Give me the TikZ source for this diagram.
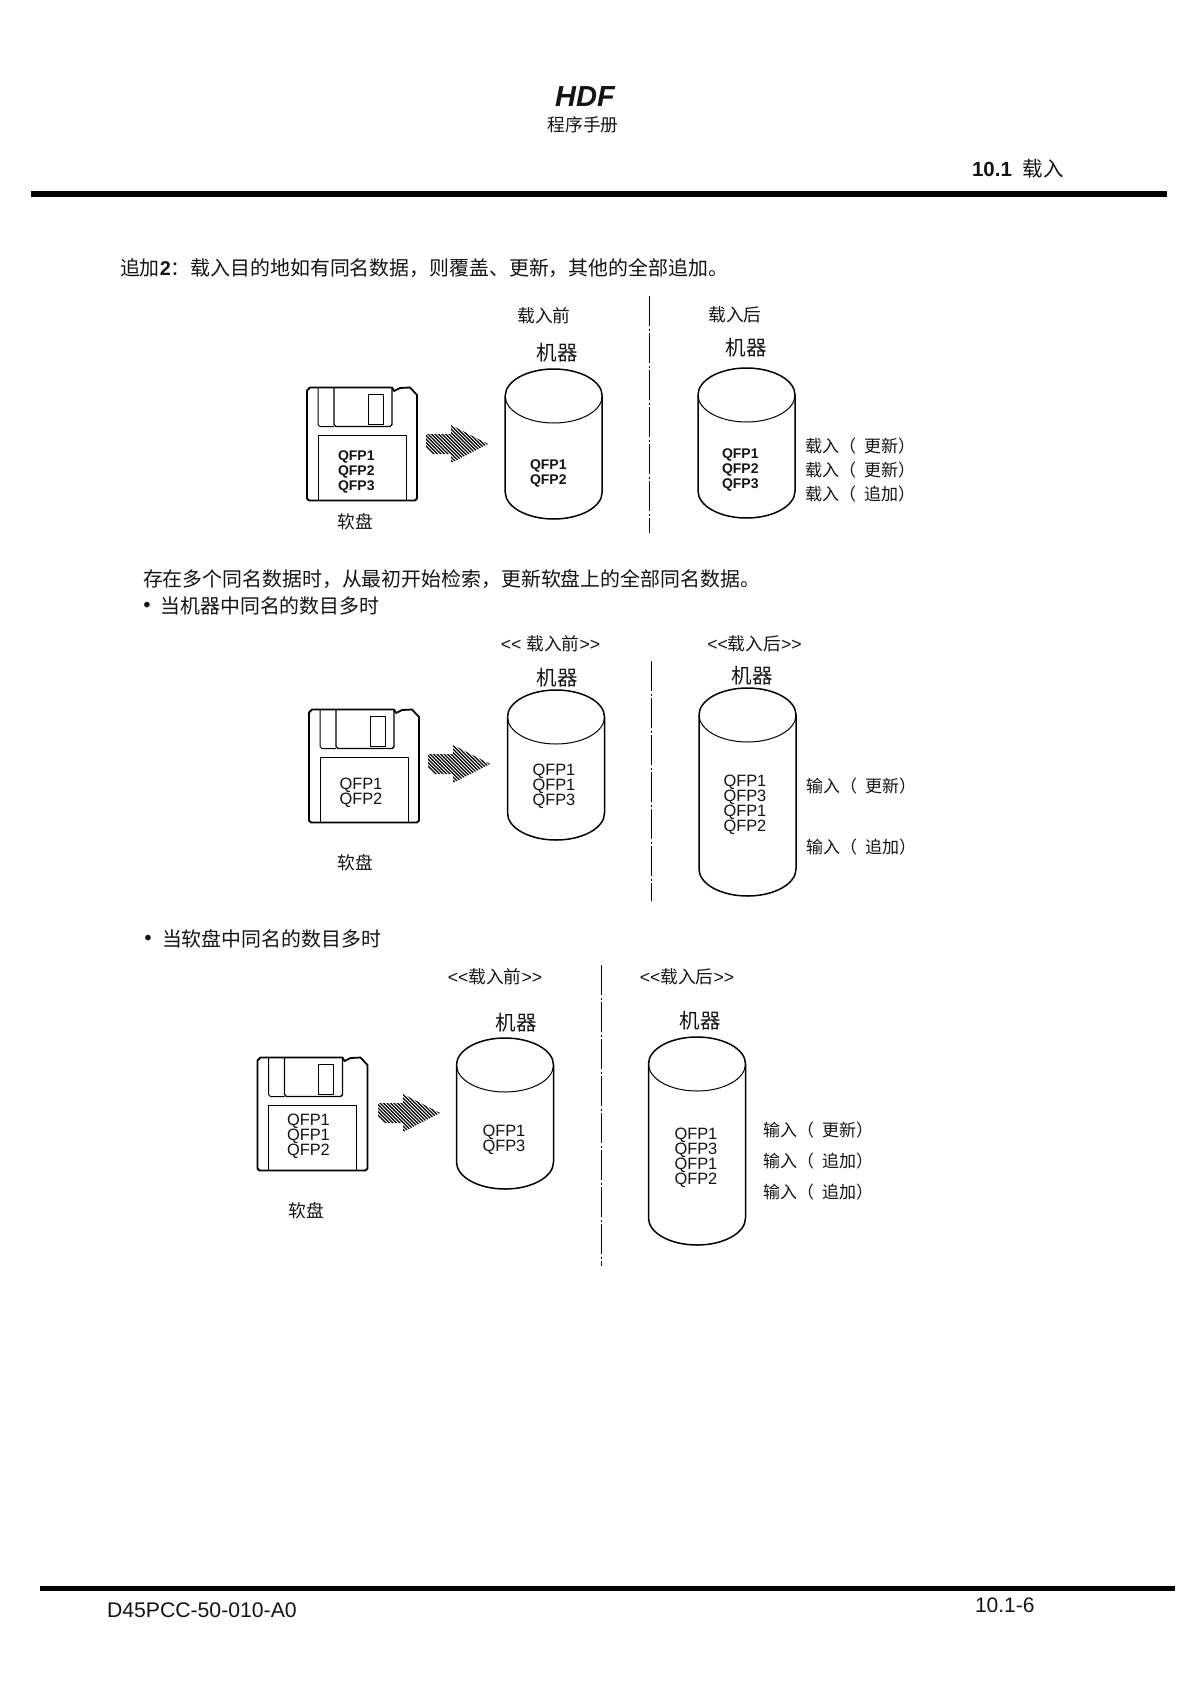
\documentclass[tikz,border=0pt]{standalone}
\usepackage{fontspec}
\setmainfont{Liberation Sans}
\newfontfamily\cjk{Noto Sans CJK SC}
\newcommand{\fsz}[1]{\fontsize{#1}{#1}\selectfont}
\newcommand{\lpar}{（\hspace{8pt}}
\newcommand{\dla}{{\rmfamily<{}<}}
\newcommand{\dra}{{\rmfamily>{}>}}
\tikzset{
  x=1pt,y=-1pt,
  txt/.style={inner sep=0pt,outer sep=0pt,text=black!92},
  cnA/.style={txt,font=\cjk\fsz{19.9}},
  cnB/.style={txt,yshift=-1pt,font=\cjk\fsz{17.7}},
  cnC/.style={txt,yshift=-0.5pt,font=\cjk\fsz{20.5}},
  cnD/.style={txt,anchor=west,yshift=-0.5pt,font=\cjk\fsz{17}},
  qfpb/.style={txt,anchor=west,yshift=-2pt,font=\bfseries\fsz{14}},
  qfpr/.style={txt,anchor=west,yshift=-2pt,xshift=0.5pt,font=\fsz{16.4}},
  outerline/.style={line width=1.8pt,line join=round},
  innerline/.style={line width=1pt,line join=round},
  shutterline/.style={line width=1.4pt,line join=round},
  cylline/.style={line width=1.5pt},
  divider/.style={line width=1pt,dash pattern=on 30pt off 2.5pt on 2pt off 2.5pt},
  hatchline/.style={line width=1.3pt,black},
  rule/.style={line width=6pt},
}
\newcommand{\floppy}[2]{%
  \begin{scope}[shift={(#1,#2)}]
    \draw[outerline,fill=white] (3,0) -- (85,0) -- (87,3.5) -- (93,0.5) -- (103,0) -- (110,7.5) -- (110,111) -- (108,113) -- (2,113) -- (0,111) -- (0,3) -- cycle;
    \draw[innerline] (11,0) -- (11,37) -- (13,39) -- (27,39);
    \draw[shutterline] (27,0) -- (27,37) -- (29,39) -- (83,39) -- (85,37) -- (85,0);
    \draw[innerline] (61,6.5) rectangle (76,36.5);
    \draw[innerline] (11,113) -- (11,48) -- (99,48) -- (99,113);
  \end{scope}}
\newcommand{\cylinder}[3]{%
  \draw[cylline,fill=white] (#1-48.5,#2+27) arc[start angle=180,end angle=0,x radius=48.5,y radius=-27]
     -- (#1+48.5,#3-27) arc[start angle=0,end angle=-180,x radius=48.5,y radius=-27] -- cycle;
  \draw[line width=1pt] (#1-48.5,#2+27) arc[start angle=180,end angle=360,x radius=48.5,y radius=-27];}
\newcommand{\hatcharrow}[2]{%
  \begin{scope}
    \clip (#1,#2-10) -- (#1+25,#2-10) -- (#1+25,#2-19) -- (#1+62,#2) -- (#1+25,#2+19) -- (#1+25,#2+10) -- (#1,#2+10) -- cycle;
    \foreach \k in {-24,-20.5,...,66}
      \draw[hatchline] (#1+\k,#2-22) -- (#1+\k+44,#2+22);
  \end{scope}}
\begin{document}
\begin{tikzpicture}
\useasboundingbox (0,0) rectangle (1190,1683);
\fill[white] (0,0) rectangle (1190,1683);
% header
\node[txt,font=\bfseries\itshape\fsz{29}] (hdf) at (585,97) {HDF};
\node[cnB,yshift=1pt] (manual) at (583,124.5) {程序手册};
\node[txt,anchor=west,font=\bfseries\fsz{20.5}] (sec) at (972,168.5) {10.1\hspace{11pt}{\mdseries\cjk 载入}};
\draw[rule] (31,194) -- (1167,194);
% footer
\draw[rule,line width=5pt] (40,1588) -- (1175,1588);
\node[txt,anchor=west,font=\fsz{21.2}] (docno) at (107,1610) {D45PCC-50-010-A0};
\node[txt,anchor=west,font=\fsz{21}] (pageno) at (975,1605) {10.1-6};
% body texts
\node[cnA,anchor=west] (t1) at (120,268) {追加{\rmfamily\bfseries 2}：载入目的地如有同名数据，则覆盖、更新，其他的全部追加。};
\node[cnA,anchor=west] (t2) at (143,579.5) {存在多个同名数据时，从最初开始检索，更新软盘上的全部同名数据。};
\node[txt,font=\bfseries\fsz{19.5}] (b1) at (147,607) {•};
\node[cnA,anchor=west] (t3) at (160.5,606) {当机器中同名的数目多时};
\node[txt,font=\bfseries\fsz{19.5}] (b2) at (148,940) {•};
\node[cnA,anchor=west] (t4) at (162,939) {当软盘中同名的数目多时};
% diagram 1
\floppy{307}{387.5}
\hatcharrow{426}{444}
\cylinder{553.7}{369}{519}
\cylinder{746.5}{368}{518}
\draw[divider] (649.5,296) -- (649.5,533);
\node[cnB] (a1) at (544,315) {载入前};
\node[cnB] (a2) at (735,314) {载入后};
\node[cnC] (a3) at (557,352) {机器};
\node[cnC] (a4) at (746,347) {机器};
\node[cnB] (a5) at (355,520.5) {软盘};
\node[qfpb] (a6) at (338,455) {QFP1};
\node[qfpb] (a7) at (338,470) {QFP2};
\node[qfpb] (a8) at (338,485) {QFP3};
\node[qfpb] (a9) at (530,463.6) {QFP1};
\node[qfpb] (a10) at (530,478.6) {QFP2};
\node[qfpb] (a11) at (722,453) {QFP1};
\node[qfpb] (a12) at (722,468) {QFP2};
\node[qfpb] (a13) at (722,483) {QFP3};
\node[cnD] (a14) at (805,446) {载入\lpar 更新）};
\node[cnD] (a15) at (805,470) {载入\lpar 更新）};
\node[cnD] (a16) at (805,494) {载入\lpar 追加）};
% diagram 2
\floppy{309}{709.5}
\hatcharrow{428}{764}
\cylinder{556}{690}{840}
\cylinder{747.5}{688}{896}
\draw[divider] (651.5,661) -- (651.5,901);
\node[cnB] (b3) at (550.5,643) {\dla\hspace{5pt}载入前\dra};
\node[cnB] (b4) at (754.5,643) {\dla 载入后\dra};
\node[cnC] (b5) at (557,677) {机器};
\node[cnC] (b6) at (752,675) {机器};
\node[cnB] (b7) at (355,862) {软盘};
\node[qfpr] (b8) at (339,783.5) {QFP1};
\node[qfpr] (b9) at (339,798.5) {QFP2};
\node[qfpr] (b10) at (532,769.5) {QFP1};
\node[qfpr] (b11) at (532,784.5) {QFP1};
\node[qfpr] (b12) at (532,799.5) {QFP3};
\node[qfpr] (b13) at (723,780) {QFP1};
\node[qfpr] (b14) at (723,795) {QFP3};
\node[qfpr] (b15) at (723,810) {QFP1};
\node[qfpr] (b16) at (723,825) {QFP2};
\node[cnD] (b17) at (806,785.5) {输入\lpar 更新）};
\node[cnD] (b18) at (806,847) {输入\lpar 追加）};
% diagram 3
\floppy{257.5}{1057.5}
\hatcharrow{378}{1113}
\cylinder{505}{1038}{1189}
\cylinder{697}{1037}{1245}
\draw[divider] (601,965) -- (601,1266);
\node[cnB] (c1) at (495,975.5) {\dla 载入前\dra};
\node[cnB] (c2) at (687,975.5) {\dla 载入后\dra};
\node[cnC] (c3) at (516,1022.5) {机器};
\node[cnC] (c4) at (700,1020.5) {机器};
\node[cnB] (c5) at (306,1210) {软盘};
\node[qfpr] (c6) at (286.5,1119) {QFP1};
\node[qfpr] (c7) at (286.5,1134) {QFP1};
\node[qfpr] (c8) at (286.5,1149) {QFP2};
\node[qfpr] (c9) at (482,1130) {QFP1};
\node[qfpr] (c10) at (482,1145) {QFP3};
\node[qfpr] (c11) at (674,1133) {QFP1};
\node[qfpr] (c12) at (674,1148) {QFP3};
\node[qfpr] (c13) at (674,1163) {QFP1};
\node[qfpr] (c14) at (674,1178) {QFP2};
\node[cnD] (c15) at (763,1130) {输入\lpar 更新）};
\node[cnD] (c16) at (763,1161) {输入\lpar 追加）};
\node[cnD] (c17) at (763,1192) {输入\lpar 追加）};
\end{tikzpicture}
\end{document}
